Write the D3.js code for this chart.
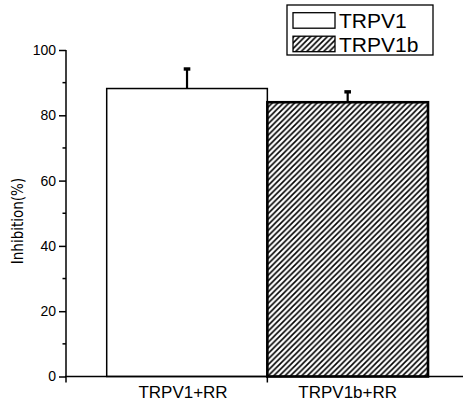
<!DOCTYPE html>
<html>
<head>
<meta charset="utf-8">
<script src="https://cdn.jsdelivr.net/npm/d3@7"></script>
<style>
  body { margin: 0; background: #fff; }
  text { font-family: "Liberation Sans", Arial, sans-serif; fill: #000; }
</style>
</head>
<body>
<div id="chart"></div>
<script>
var categories = ["TRPV1+RR", "TRPV1b+RR"];
var seriesNames = ["TRPV1", "TRPV1b"];
var means = [88.2, 84.0];
var errors = [6.2, 3.4];
var yTicks = [0, 20, 40, 60, 80, 100];
var yMinorTicks = [10, 30, 50, 70, 90];

var width = 465, height = 403;

var svg = d3.select("#chart").append("svg")
    .attr("width", width)
    .attr("height", height);

// diagonal hatch for the second series
var hs = 5.6;
var defs = svg.append("defs");
defs.append("pattern")
    .attr("id", "hatch")
    .attr("patternUnits", "userSpaceOnUse")
    .attr("width", hs)
    .attr("height", hs)
  .append("path")
    .attr("d", "M-1," + (hs + 1) + "L" + (hs + 1) + ",-1" +
               "M" + (-hs / 2 - 1) + "," + (hs / 2 + 1) + "L" + (hs / 2 + 1) + "," + (-hs / 2 - 1) +
               "M" + (hs / 2 - 1) + "," + (hs * 1.5 + 1) + "L" + (hs * 1.5 + 1) + "," + (hs / 2 - 1))
    .attr("stroke", "#000")
    .attr("stroke-width", 1.6);

var y = d3.scaleLinear().domain([0, 100]).range([376.5, 50]);
var x = d3.scaleBand().domain(categories).range([106.7, 428]).padding(0);
var axisLeftX = 66, axisRightX = 463;

// y axis
var yAxis = d3.axisLeft(y).tickValues(yTicks).tickSize(7).tickPadding(3);
var gy = svg.append("g")
    .attr("transform", "translate(" + axisLeftX + ",0)")
    .call(yAxis);
gy.select(".domain").attr("stroke-width", 1.5).attr("d", "M0," + y(0) + "V" + y(100));
gy.selectAll(".tick line").attr("stroke-width", 1.5);
gy.selectAll(".tick text").style("font-size", "14px").style("font-family", "Liberation Sans, Arial, sans-serif");

gy.selectAll(".minor").data(yMinorTicks).enter().append("line")
    .attr("class", "minor")
    .attr("x1", -3.5).attr("x2", 0)
    .attr("y1", function(d) { return y(d); })
    .attr("y2", function(d) { return y(d); })
    .attr("stroke", "#000").attr("stroke-width", 1.5);

svg.append("text")
    .attr("transform", "translate(23,221) rotate(-90)")
    .attr("text-anchor", "middle")
    .style("font-size", "15px")
    .style("font-family", "DejaVu Sans Condensed, Liberation Sans Narrow, sans-serif")
    .text("Inhibition(%)");

// bars
var fills = ["#fff", "url(#hatch)"];
var strokes = [1.5, 2.6];
svg.selectAll(".bar").data(means).enter().append("rect")
    .attr("class", "bar")
    .attr("x", function(d, i) { return x(categories[i]); })
    .attr("y", function(d) { return y(d); })
    .attr("width", x.bandwidth())
    .attr("height", function(d) { return y(0) - y(d); })
    .attr("fill", function(d, i) { return fills[i]; })
    .attr("stroke", "#000")
    .attr("stroke-width", function(d, i) { return strokes[i]; });

// error bars (upper only)
svg.selectAll(".err").data(means).enter().append("line")
    .attr("x1", function(d, i) { return x(categories[i]) + x.bandwidth() / 2; })
    .attr("x2", function(d, i) { return x(categories[i]) + x.bandwidth() / 2; })
    .attr("y1", function(d) { return y(d); })
    .attr("y2", function(d, i) { return y(d + errors[i]); })
    .attr("stroke", "#000").attr("stroke-width", 2.2);
svg.selectAll(".cap").data(means).enter().append("rect")
    .attr("x", function(d, i) { return x(categories[i]) + x.bandwidth() / 2 - 3.3; })
    .attr("y", function(d, i) { return y(d + errors[i]) - 1; })
    .attr("width", 6.6).attr("height", 3.4)
    .attr("fill", "#000");

// x axis
svg.append("line")
    .attr("x1", axisLeftX - 1).attr("x2", axisRightX)
    .attr("y1", y(0)).attr("y2", y(0))
    .attr("stroke", "#000").attr("stroke-width", 1.5);
var xTickPos = [axisLeftX, x(categories[1])];
svg.selectAll(".xtick").data(xTickPos).enter().append("line")
    .attr("x1", function(d) { return d; }).attr("x2", function(d) { return d; })
    .attr("y1", y(0)).attr("y2", y(0) + 6)
    .attr("stroke", "#000").attr("stroke-width", 1.5);
svg.selectAll(".xlabel").data(categories).enter().append("text")
    .attr("x", function(d, i) { return x(d) + x.bandwidth() / 2 - (i === 0 ? 4 : 0); })
    .attr("y", 398)
    .attr("text-anchor", "middle")
    .style("font-size", "17px")
    .text(function(d) { return d; });

// legend
var legend = svg.append("g");
legend.append("rect")
    .attr("x", 287).attr("y", 5).attr("width", 146).attr("height", 50)
    .attr("fill", "#fff").attr("stroke", "#000").attr("stroke-width", 1.3);
seriesNames.forEach(function(name, i) {
    legend.append("rect")
        .attr("x", 293).attr("y", 12.7 + i * 23.5)
        .attr("width", 42).attr("height", 15.5)
        .attr("fill", fills[i]).attr("stroke", "#000").attr("stroke-width", 1.3);
    legend.append("text")
        .attr("x", 339).attr("y", 28 + i * 23.5)
        .style("font-size", "21px")
        .text(name);
});
</script>
</body>
</html>
